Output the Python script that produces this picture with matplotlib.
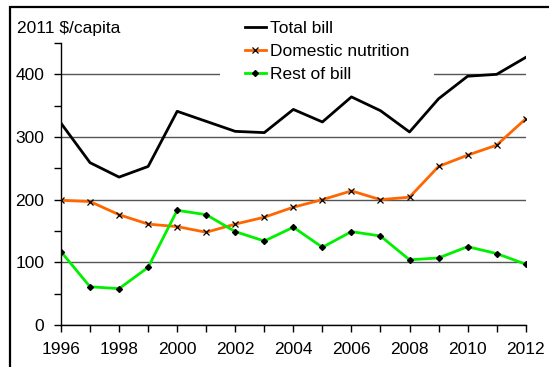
import matplotlib
matplotlib.use("Agg")
import matplotlib.pyplot as plt
from matplotlib.patches import Rectangle

plt.rcParams['font.family'] = ['Liberation Sans', 'DejaVu Sans']

years = list(range(1996, 2013))
total_bill = [322, 259, 236, 253, 341, 325, 309, 307, 344, 324, 364, 342, 308, 361, 397, 400, 427]
domestic_nutrition = [199, 197, 176, 161, 157, 148, 161, 172, 188, 200, 214, 200, 204, 253, 271, 287, 329]
rest_of_bill = [117, 61, 58, 92, 183, 176, 149, 134, 156, 124, 149, 142, 104, 107, 125, 114, 97]
xtick_labels = [str(y) for y in range(1996, 2013, 2)]
ytick_labels = ['0', '100', '200', '300', '400']

W, H = 549, 367
fig = plt.figure(figsize=(W / 100, H / 100), dpi=100)
ax = fig.add_axes([61 / W, 1 - 325 / H, (525.7 - 61) / W, (325 - 43) / H])

fs = 12.5
ax.plot(years, total_bill, color='black', lw=2, label='Total bill', zorder=3)
ax.plot(years, domestic_nutrition, color='#FF6600', lw=2, marker='x', ms=5,
        mec='black', mew=0.9, label='Domestic nutrition', zorder=3)
ax.plot(years, rest_of_bill, color='#00F000', lw=2, marker='D', ms=3,
        mec='black', mfc='black', label='Rest of bill', zorder=3)

ax.set_xlim(1996, 2012)
ax.set_ylim(0, 450)
ax.set_xticks(range(1996, 2013, 2))
ax.set_xticklabels(xtick_labels)
ax.set_xticks(range(1996, 2013), minor=True)
ax.set_yticks(range(0, 401, 100))
ax.set_yticklabels(ytick_labels)
ax.set_yticks(range(0, 451, 50), minor=True)
ax.tick_params(which='both', direction='out', length=5, width=1, color='black',
               labelsize=fs, pad=7)
for s in ['top', 'right']:
    ax.spines[s].set_visible(False)
for s in ['left', 'bottom']:
    ax.spines[s].set_linewidth(1)
ax.set_axisbelow(True)
ax.grid(axis='y', which='major', color='#555555', lw=1)

leg = ax.legend(loc='center', bbox_to_anchor=(327 / W, 1 - 51.5 / H),
                bbox_transform=fig.transFigure, fontsize=fs, frameon=True,
                facecolor='white', edgecolor='none', framealpha=1, fancybox=False,
                borderpad=1.45, borderaxespad=0, handlelength=1.2,
                handletextpad=0.25, labelspacing=0.45)
leg.set_zorder(1.5)

fig.text(17 / W, 1 - 29 / H, '2011 $/capita', fontsize=fs, ha='left', va='center')

fig.patches.append(Rectangle((10 / W, -0.1), 1.2, 1 - 6.5 / H + 0.1,
                             transform=fig.transFigure, fill=False,
                             edgecolor='black', lw=1.6))

fig.savefig('out.png', dpi=100)
